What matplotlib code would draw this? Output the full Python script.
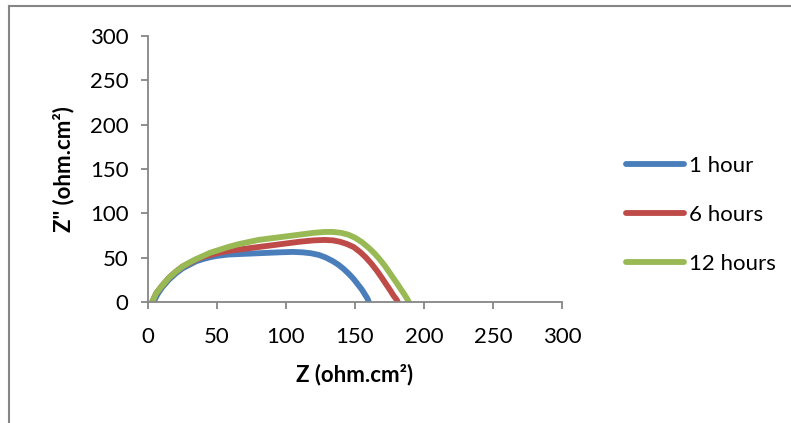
import matplotlib.pyplot as plt
from matplotlib.lines import Line2D

# Nyquist curves
z_1h = [4, 7, 10, 15, 20, 25, 30, 35, 40, 45, 50, 58, 65, 80, 95, 105, 112, 118, 124, 129,
        134, 138, 142, 146, 149, 152, 155, 157, 159, 160]
zz_1h = [0, 9, 16, 25, 32, 38, 42, 46, 48.5, 50.5, 52, 53.5, 54, 55, 56, 56.5, 56, 55, 53, 50,
         46, 42, 37, 31, 26, 20, 14, 9, 4, 0]

z_6h = [3, 6, 10, 15, 20, 25, 30, 35, 40, 45, 50, 58, 65, 80, 95, 110, 120, 128, 134, 139,
        144, 149, 154, 158, 162, 166, 170, 173, 176, 178, 180, 181]
zz_6h = [0, 10, 18, 27, 34, 40, 44, 48, 51, 53, 55, 57.5, 59, 62, 65, 68, 69.5, 70, 69.5, 68,
         65.5, 62, 56, 50, 43, 35, 26, 19, 12, 7, 3, 0]

z_12h = [3, 6, 10, 15, 20, 25, 30, 35, 40, 45, 50, 58, 65, 80, 95, 110, 120, 128, 134, 140,
         145, 150, 155, 160, 164, 168, 172, 176, 180, 183, 186, 188, 189]
zz_12h = [0, 10, 18, 27, 34, 40, 44.5, 48.5, 52, 55.5, 58, 62, 65, 70, 73, 76, 78, 79, 79, 78,
          76, 72.5, 67.5, 61, 55, 48, 40, 31, 22, 15, 8, 3, 0]

labels = ['1 hour', '6 hours', '12 hours']
colors = ['#4a7ebb', '#be4b48', '#98b954']
ticks = [0, 50, 100, 150, 200, 250, 300]

plt.rcParams['font.family'] = ['Lato', 'DejaVu Sans']

fig = plt.figure(figsize=(7.91, 4.23), dpi=100)
ax = fig.add_axes([148 / 791, 1 - 302 / 423, 414 / 791, 266 / 423])

for x, y, c in zip([z_1h, z_6h, z_12h], [zz_1h, zz_6h, zz_12h], colors):
    ax.plot(x, y, color=c, lw=4.2, solid_capstyle='round', solid_joinstyle='round')

ax.set_xlim(0, 300)
ax.set_ylim(0, 300)
ax.set_xticks(ticks)
ax.set_yticks(ticks)
ax.tick_params(labelsize=16, length=5, width=1.3, color='#868686', pad=9)
ax.tick_params(axis='x', pad=13)
for side in ['top', 'right']:
    ax.spines[side].set_visible(False)
for side in ['left', 'bottom']:
    ax.spines[side].set_color('#868686')
    ax.spines[side].set_linewidth(1.3)

ax.set_xlabel('Z (ohm.cm²)', fontsize=16, fontweight='bold', labelpad=12)
ax.set_ylabel('Z" (ohm.cm²)', fontsize=16, fontweight='bold', labelpad=11)

handles = [Line2D([], [], color=c, lw=4.2, solid_capstyle='round') for c in colors]
fig.legend(handles, labels, loc='center left', bbox_to_anchor=(606 / 791, 1 - 215 / 423),
           frameon=False, fontsize=16, handlelength=2.6, handletextpad=0.25,
           labelspacing=1.3)

# outer chart frame
fig.add_artist(Line2D([8.5 / 791, 8.5 / 791], [0, 1 - 6.5 / 423], color='#868686', lw=1.5))
fig.add_artist(Line2D([8.5 / 791, 1], [1 - 6.5 / 423, 1 - 6.5 / 423], color='#868686', lw=1.5))

fig.savefig('out.png', dpi=100)
